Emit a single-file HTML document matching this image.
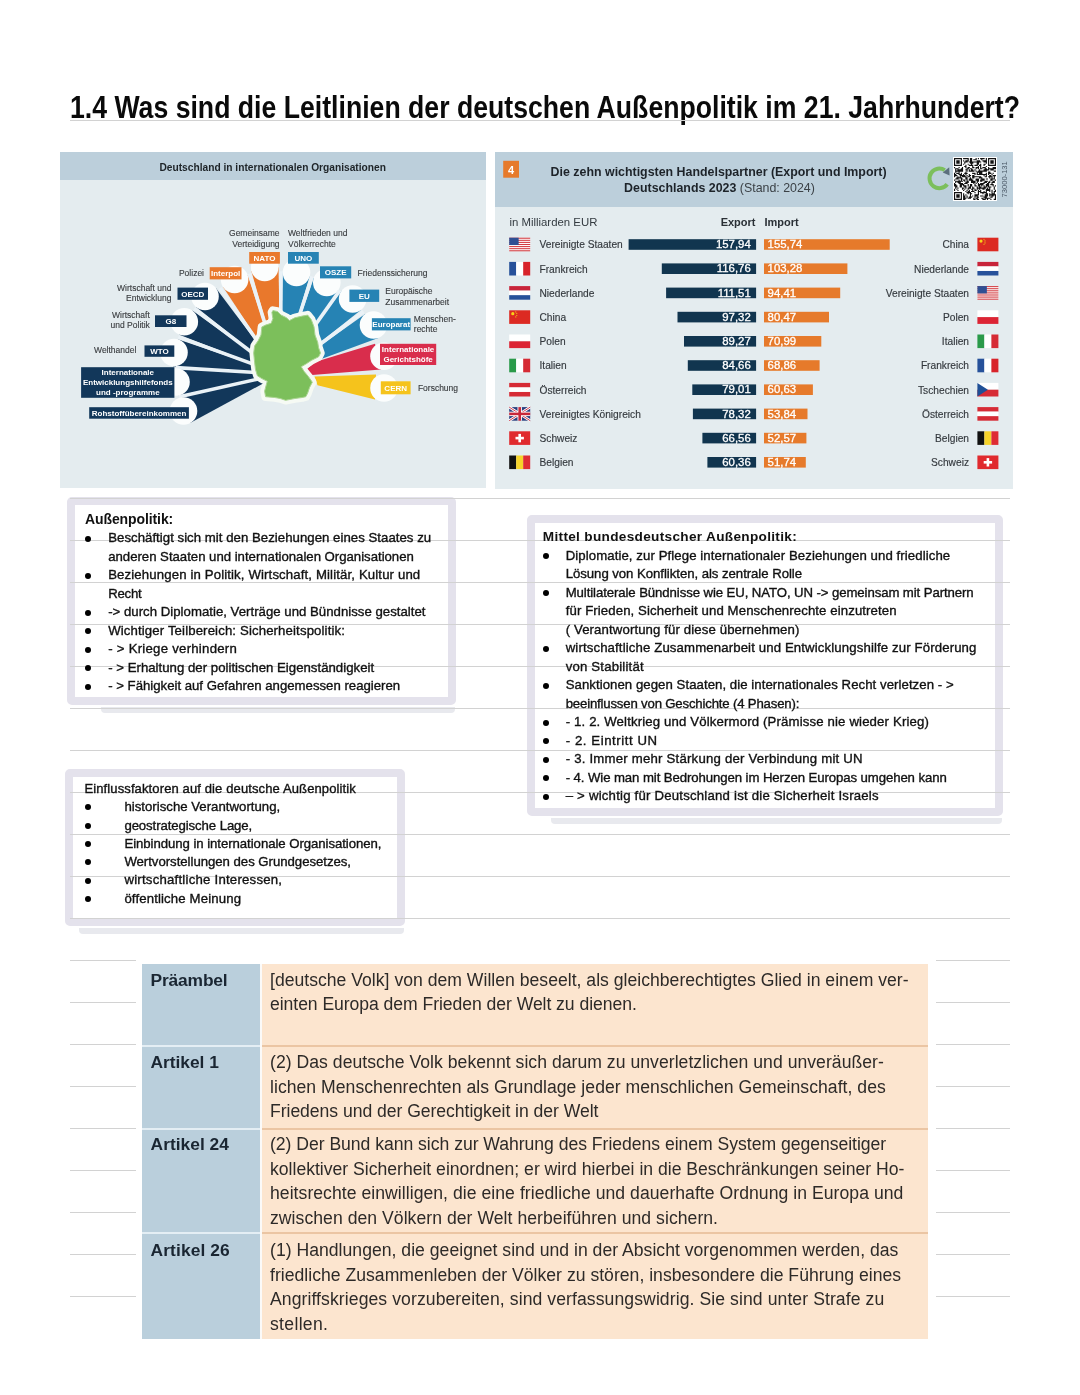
<!DOCTYPE html>
<html lang="de">
<head>
<meta charset="utf-8">
<title>1.4 Leitlinien der deutschen Außenpolitik</title>
<style>
*{margin:0;padding:0;box-sizing:border-box}
html,body{width:1080px;height:1395px;background:#fff;overflow:hidden}
body{position:relative;font-family:"Liberation Sans",Arial,sans-serif;color:#111}
.abs{position:absolute}
.ln{position:absolute;height:1px;background:#d2d2d2}
h1{position:absolute;left:69.5px;top:92.0px;font:700 31px/1 "Liberation Sans",sans-serif;white-space:nowrap;color:#0a0a0a;letter-spacing:0px;transform:scaleX(0.8595);transform-origin:0 0}
.box{position:absolute;background:#fff;border:8px solid #e4e2ec;border-radius:5px}
.shadow{position:absolute;height:5.5px;background:#e8e9ee;border-radius:0 0 4px 4px}
.t{position:absolute;white-space:nowrap;font-family:"Liberation Sans",sans-serif;color:#111;line-height:1}
.nt{-webkit-text-stroke:0.35px #111}
.dot{position:absolute;width:6px;height:6px;border-radius:50%;background:#000}
.cell{position:absolute;overflow:hidden}
.lab{position:absolute;font:700 17px/1 "Liberation Sans",sans-serif;color:#1b2733;white-space:nowrap;letter-spacing:-0.2px}
.txt{position:absolute;font:400 17.6px/24.5px "Liberation Sans",sans-serif;color:#2e2b2a;white-space:nowrap}
</style>
</head>
<body>
<h1>1.4 Was sind die Leitlinien der deutschen Außenpolitik im 21. Jahrhundert?</h1>
<svg class="abs" style="left:60px;top:152px" width="426" height="336" viewBox="60 152 426 336">
<rect x="60" y="152" width="426" height="336" fill="#e4ecef"/>
<rect x="60" y="152" width="426" height="28" fill="#bccfdb"/>
<text x="272.7" y="171.4" text-anchor="middle" font-family="Liberation Sans, sans-serif" font-weight="700" font-size="10.2" fill="#1e2428">Deutschland in internationalen Organisationen</text>
<polygon points="280.5,374.0 180.3,397.6 190.1,423.1" fill="#12375a"/>
<polygon points="280.5,374.0 176.8,368.2 178.9,395.5" fill="#12375a"/>
<polygon points="280.5,374.0 178.4,339.4 173.0,366.3" fill="#12375a"/>
<polygon points="280.5,374.0 192.4,310.6 179.3,334.7" fill="#12375a"/>
<polygon points="280.5,374.0 216.0,288.2 196.4,307.3" fill="#12375a"/>
<polygon points="280.5,374.0 247.7,275.2 223.1,287.1" fill="#e9782c"/>
<polygon points="280.5,374.0 278.5,267.2 251.4,271.3" fill="#e9782c"/>
<polygon points="280.5,374.0 309.7,276.5 282.7,272.2" fill="#2683b4"/>
<polygon points="280.5,374.0 338.2,290.3 313.8,278.0" fill="#2683b4"/>
<polygon points="280.5,374.0 361.2,309.8 341.5,290.8" fill="#2683b4"/>
<polygon points="280.5,374.0 378.3,337.9 365.5,313.7" fill="#2683b4"/>
<line x1="280.5" y1="374.0" x2="179.2" y2="396.7" stroke="#eaf2f7" stroke-width="3.6"/>
<line x1="280.5" y1="374.0" x2="175.9" y2="367.6" stroke="#eaf2f7" stroke-width="3.6"/>
<line x1="280.5" y1="374.0" x2="178.4" y2="336.9" stroke="#eaf2f7" stroke-width="3.6"/>
<line x1="280.5" y1="374.0" x2="194.2" y2="308.7" stroke="#eaf2f7" stroke-width="3.6"/>
<line x1="280.5" y1="374.0" x2="220.1" y2="288.0" stroke="#eaf2f7" stroke-width="3.6"/>
<line x1="280.5" y1="374.0" x2="249.5" y2="273.6" stroke="#eaf2f7" stroke-width="3.6"/>
<line x1="280.5" y1="374.0" x2="281.0" y2="271.2" stroke="#eaf2f7" stroke-width="3.6"/>
<line x1="280.5" y1="374.0" x2="312.0" y2="276.4" stroke="#eaf2f7" stroke-width="3.6"/>
<line x1="280.5" y1="374.0" x2="339.8" y2="290.4" stroke="#eaf2f7" stroke-width="3.6"/>
<line x1="280.5" y1="374.0" x2="363.6" y2="311.5" stroke="#eaf2f7" stroke-width="3.6"/>
<polygon points="375,343.8 315,362 307.5,368.5 307.5,372.5 312,375 381,369.5" fill="#d92d4c"/>
<polygon points="376,374.6 314.5,376.6 317.5,385.2 375,399.5" fill="#f5c31c"/>
<circle cx="183.5" cy="411.0" r="13.8" fill="#fbfdfd"/>
<circle cx="176.0" cy="382.0" r="13.8" fill="#fbfdfd"/>
<circle cx="174.0" cy="352.5" r="13.8" fill="#fbfdfd"/>
<circle cx="184.3" cy="321.8" r="13.8" fill="#fbfdfd"/>
<circle cx="205.0" cy="296.5" r="13.8" fill="#fbfdfd"/>
<circle cx="234.6" cy="279.5" r="13.8" fill="#fbfdfd"/>
<circle cx="264.7" cy="267.5" r="13.8" fill="#fbfdfd"/>
<circle cx="296.5" cy="272.5" r="13.8" fill="#fbfdfd"/>
<circle cx="326.8" cy="282.5" r="13.8" fill="#fbfdfd"/>
<circle cx="352.6" cy="299.0" r="13.8" fill="#fbfdfd"/>
<circle cx="373.5" cy="325.0" r="13.8" fill="#fbfdfd"/>
<circle cx="384.0" cy="356.3" r="13.8" fill="#fbfdfd"/>
<circle cx="384.0" cy="388.0" r="13.8" fill="#fbfdfd"/>
<rect x="89.2" y="407.2" width="99.7" height="11.5" fill="#12375a"/>
<text x="139.1" y="415.8" text-anchor="middle" font-family="Liberation Sans, sans-serif" font-weight="700" font-size="8" fill="#fff">Rohstoffübereinkommen</text>
<rect x="81.1" y="367.2" width="93.3" height="30.6" fill="#12375a"/>
<text x="127.8" y="375.4" text-anchor="middle" font-family="Liberation Sans, sans-serif" font-weight="700" font-size="8" fill="#fff">Internationale</text>
<text x="127.8" y="385.4" text-anchor="middle" font-family="Liberation Sans, sans-serif" font-weight="700" font-size="8" fill="#fff">Entwicklungshilfefonds</text>
<text x="127.8" y="395.4" text-anchor="middle" font-family="Liberation Sans, sans-serif" font-weight="700" font-size="8" fill="#fff">und -programme</text>
<rect x="144.5" y="345.4" width="29.8" height="11.4" fill="#12375a"/>
<text x="159.4" y="354.0" text-anchor="middle" font-family="Liberation Sans, sans-serif" font-weight="700" font-size="8" fill="#fff">WTO</text>
<text x="136.4" y="353.2" text-anchor="end" font-family="Liberation Sans, sans-serif" font-size="8.5" fill="#383b3e" stroke="#383b3e" stroke-width="0.12">Welthandel</text>
<rect x="155.0" y="315.3" width="31.5" height="11.7" fill="#12375a"/>
<text x="170.8" y="324.0" text-anchor="middle" font-family="Liberation Sans, sans-serif" font-weight="700" font-size="8" fill="#fff">G8</text>
<text x="149.8" y="317.8" text-anchor="end" font-family="Liberation Sans, sans-serif" font-size="8.5" fill="#383b3e" stroke="#383b3e" stroke-width="0.12">Wirtschaft</text>
<text x="149.8" y="328.3" text-anchor="end" font-family="Liberation Sans, sans-serif" font-size="8.5" fill="#383b3e" stroke="#383b3e" stroke-width="0.12">und Politik</text>
<rect x="177.5" y="287.6" width="30.5" height="12.2" fill="#12375a"/>
<text x="192.8" y="296.6" text-anchor="middle" font-family="Liberation Sans, sans-serif" font-weight="700" font-size="8" fill="#fff">OECD</text>
<text x="171.4" y="290.6" text-anchor="end" font-family="Liberation Sans, sans-serif" font-size="8.5" fill="#383b3e" stroke="#383b3e" stroke-width="0.12">Wirtschaft und</text>
<text x="171.4" y="301.0" text-anchor="end" font-family="Liberation Sans, sans-serif" font-size="8.5" fill="#383b3e" stroke="#383b3e" stroke-width="0.12">Entwicklung</text>
<rect x="209.7" y="267.2" width="31.8" height="12.2" fill="#e9782c"/>
<text x="225.6" y="276.2" text-anchor="middle" font-family="Liberation Sans, sans-serif" font-weight="700" font-size="8" fill="#fff">Interpol</text>
<text x="204.0" y="276.3" text-anchor="end" font-family="Liberation Sans, sans-serif" font-size="8.5" fill="#383b3e" stroke="#383b3e" stroke-width="0.12">Polizei</text>
<rect x="249.2" y="252.0" width="30.7" height="11.7" fill="#e9782c"/>
<text x="264.5" y="260.8" text-anchor="middle" font-family="Liberation Sans, sans-serif" font-weight="700" font-size="8" fill="#fff">NATO</text>
<text x="279.6" y="236.3" text-anchor="end" font-family="Liberation Sans, sans-serif" font-size="8.5" fill="#383b3e" stroke="#383b3e" stroke-width="0.12">Gemeinsame</text>
<text x="279.6" y="246.5" text-anchor="end" font-family="Liberation Sans, sans-serif" font-size="8.5" fill="#383b3e" stroke="#383b3e" stroke-width="0.12">Verteidigung</text>
<rect x="288.0" y="252.0" width="30.8" height="11.7" fill="#2683b4"/>
<text x="303.4" y="260.8" text-anchor="middle" font-family="Liberation Sans, sans-serif" font-weight="700" font-size="8" fill="#fff">UNO</text>
<text x="288.0" y="236.3" text-anchor="start" font-family="Liberation Sans, sans-serif" font-size="8.5" fill="#383b3e" stroke="#383b3e" stroke-width="0.12">Weltfrieden und</text>
<text x="288.0" y="246.5" text-anchor="start" font-family="Liberation Sans, sans-serif" font-size="8.5" fill="#383b3e" stroke="#383b3e" stroke-width="0.12">Völkerrechte</text>
<rect x="320.0" y="266.3" width="31.2" height="12.1" fill="#2683b4"/>
<text x="335.6" y="275.2" text-anchor="middle" font-family="Liberation Sans, sans-serif" font-weight="700" font-size="8" fill="#fff">OSZE</text>
<text x="357.6" y="275.8" text-anchor="start" font-family="Liberation Sans, sans-serif" font-size="8.5" fill="#383b3e" stroke="#383b3e" stroke-width="0.12">Friedenssicherung</text>
<rect x="349.4" y="289.6" width="29.8" height="12.3" fill="#2683b4"/>
<text x="364.3" y="298.6" text-anchor="middle" font-family="Liberation Sans, sans-serif" font-weight="700" font-size="8" fill="#fff">EU</text>
<text x="385.3" y="294.3" text-anchor="start" font-family="Liberation Sans, sans-serif" font-size="8.5" fill="#383b3e" stroke="#383b3e" stroke-width="0.12">Europäische</text>
<text x="385.3" y="304.5" text-anchor="start" font-family="Liberation Sans, sans-serif" font-size="8.5" fill="#383b3e" stroke="#383b3e" stroke-width="0.12">Zusammenarbeit</text>
<rect x="371.9" y="318.2" width="38.7" height="12.2" fill="#2683b4"/>
<text x="391.2" y="327.2" text-anchor="middle" font-family="Liberation Sans, sans-serif" font-weight="700" font-size="8" fill="#fff">Europarat</text>
<text x="413.8" y="321.5" text-anchor="start" font-family="Liberation Sans, sans-serif" font-size="8.5" fill="#383b3e" stroke="#383b3e" stroke-width="0.12">Menschen-</text>
<text x="413.8" y="332.0" text-anchor="start" font-family="Liberation Sans, sans-serif" font-size="8.5" fill="#383b3e" stroke="#383b3e" stroke-width="0.12">rechte</text>
<rect x="380.0" y="343.8" width="56.2" height="21.2" fill="#d92d4c"/>
<text x="408.1" y="352.3" text-anchor="middle" font-family="Liberation Sans, sans-serif" font-weight="700" font-size="8" fill="#fff">Internationale</text>
<text x="408.1" y="362.3" text-anchor="middle" font-family="Liberation Sans, sans-serif" font-weight="700" font-size="8" fill="#fff">Gerichtshöfe</text>
<rect x="380.8" y="381.3" width="29.8" height="13.0" fill="#f5c31c"/>
<text x="395.7" y="390.7" text-anchor="middle" font-family="Liberation Sans, sans-serif" font-weight="700" font-size="8" fill="#fff">CERN</text>
<text x="417.9" y="391.0" text-anchor="start" font-family="Liberation Sans, sans-serif" font-size="8.5" fill="#383b3e" stroke="#383b3e" stroke-width="0.12">Forschung</text>
<polygon points="272.9,310.6 277.4,311.5 281.1,315.1 286.6,317.8 289.4,320.6 294.8,317.8 302.2,316.1 307.7,315.1 311.3,319.7 314.0,326.9 315.0,335.0 317.7,342.3 318.6,347.8 320.5,353.1 318.6,356.8 311.3,360.4 305.8,364.1 301.2,366.7 304.0,371.3 308.5,376.7 312.3,382.2 309.5,387.6 307.7,393.0 305.8,396.7 302.2,397.5 294.8,398.5 285.6,400.3 280.2,398.5 274.7,397.5 265.6,396.7 264.6,391.2 266.5,383.9 267.3,381.3 261.9,378.6 257.4,375.8 255.5,369.5 254.6,362.2 253.7,353.1 254.6,345.9 258.3,340.5 261.0,335.0 261.9,326.9 265.6,325.1 271.1,323.3 272.9,318.7 271.9,312.4" fill="#f6faf4" stroke="#f6faf4" stroke-width="8.5" stroke-linejoin="round"/>
<polygon points="272.9,310.6 277.4,311.5 281.1,315.1 286.6,317.8 289.4,320.6 294.8,317.8 302.2,316.1 307.7,315.1 311.3,319.7 314.0,326.9 315.0,335.0 317.7,342.3 318.6,347.8 320.5,353.1 318.6,356.8 311.3,360.4 305.8,364.1 301.2,366.7 304.0,371.3 308.5,376.7 312.3,382.2 309.5,387.6 307.7,393.0 305.8,396.7 302.2,397.5 294.8,398.5 285.6,400.3 280.2,398.5 274.7,397.5 265.6,396.7 264.6,391.2 266.5,383.9 267.3,381.3 261.9,378.6 257.4,375.8 255.5,369.5 254.6,362.2 253.7,353.1 254.6,345.9 258.3,340.5 261.0,335.0 261.9,326.9 265.6,325.1 271.1,323.3 272.9,318.7 271.9,312.4" fill="#7cbf5b" stroke="#a9d48f" stroke-width="1" stroke-linejoin="round"/>
</svg>
<svg class="abs" style="left:495px;top:152px" width="518" height="337" viewBox="495 152 518 337">
<rect x="495" y="152" width="518" height="337" fill="#e4ecef"/>
<rect x="495" y="152" width="518" height="55" fill="#bccfdb"/>
<rect x="503.2" y="160.8" width="15.8" height="16.9" fill="#e67a2b"/>
<text x="511.1" y="173.6" text-anchor="middle" font-family="Liberation Sans, sans-serif" font-weight="700" font-size="11" fill="#fff">4</text>
<text x="718.6" y="176" text-anchor="middle" font-family="Liberation Sans, sans-serif" font-weight="700" font-size="12.4" fill="#1d2329">Die zehn wichtigsten Handelspartner (Export und Import)</text>
<text x="719.5" y="192" text-anchor="middle" font-family="Liberation Sans, sans-serif" font-size="12.4" fill="#1d2329"><tspan font-weight="700">Deutschlands 2023</tspan><tspan fill="#3b4146"> (Stand: 2024)</tspan></text>
<path d="M944.8,170.2 A9.8,9.8 0 1 0 947.2,184.2" fill="none" stroke="#7cbf5c" stroke-width="4"/>
<polygon points="949.2,167.2 949.6,175.4 942.8,172.4" fill="#5b6f7d"/>
<rect x="953.0" y="157.0" width="44.0" height="44.0" fill="#fff"/><path d="M954.00 158.00h1.14v1.14h-1.14zM955.14 158.00h1.14v1.14h-1.14zM956.27 158.00h1.14v1.14h-1.14zM957.41 158.00h1.14v1.14h-1.14zM958.54 158.00h1.14v1.14h-1.14zM959.68 158.00h1.14v1.14h-1.14zM960.81 158.00h1.14v1.14h-1.14zM963.08 158.00h1.14v1.14h-1.14zM964.22 158.00h1.14v1.14h-1.14zM965.35 158.00h1.14v1.14h-1.14zM966.49 158.00h1.14v1.14h-1.14zM967.62 158.00h1.14v1.14h-1.14zM969.89 158.00h1.14v1.14h-1.14zM971.03 158.00h1.14v1.14h-1.14zM975.57 158.00h1.14v1.14h-1.14zM977.84 158.00h1.14v1.14h-1.14zM980.11 158.00h1.14v1.14h-1.14zM981.24 158.00h1.14v1.14h-1.14zM982.38 158.00h1.14v1.14h-1.14zM983.51 158.00h1.14v1.14h-1.14zM985.78 158.00h1.14v1.14h-1.14zM988.05 158.00h1.14v1.14h-1.14zM989.19 158.00h1.14v1.14h-1.14zM990.32 158.00h1.14v1.14h-1.14zM991.46 158.00h1.14v1.14h-1.14zM992.59 158.00h1.14v1.14h-1.14zM993.73 158.00h1.14v1.14h-1.14zM994.86 158.00h1.14v1.14h-1.14zM954.00 159.14h1.14v1.14h-1.14zM960.81 159.14h1.14v1.14h-1.14zM967.62 159.14h1.14v1.14h-1.14zM969.89 159.14h1.14v1.14h-1.14zM971.03 159.14h1.14v1.14h-1.14zM973.30 159.14h1.14v1.14h-1.14zM974.43 159.14h1.14v1.14h-1.14zM975.57 159.14h1.14v1.14h-1.14zM981.24 159.14h1.14v1.14h-1.14zM985.78 159.14h1.14v1.14h-1.14zM988.05 159.14h1.14v1.14h-1.14zM994.86 159.14h1.14v1.14h-1.14zM954.00 160.27h1.14v1.14h-1.14zM956.27 160.27h1.14v1.14h-1.14zM957.41 160.27h1.14v1.14h-1.14zM958.54 160.27h1.14v1.14h-1.14zM960.81 160.27h1.14v1.14h-1.14zM963.08 160.27h1.14v1.14h-1.14zM965.35 160.27h1.14v1.14h-1.14zM966.49 160.27h1.14v1.14h-1.14zM967.62 160.27h1.14v1.14h-1.14zM969.89 160.27h1.14v1.14h-1.14zM971.03 160.27h1.14v1.14h-1.14zM976.70 160.27h1.14v1.14h-1.14zM977.84 160.27h1.14v1.14h-1.14zM978.97 160.27h1.14v1.14h-1.14zM982.38 160.27h1.14v1.14h-1.14zM983.51 160.27h1.14v1.14h-1.14zM984.65 160.27h1.14v1.14h-1.14zM985.78 160.27h1.14v1.14h-1.14zM988.05 160.27h1.14v1.14h-1.14zM990.32 160.27h1.14v1.14h-1.14zM991.46 160.27h1.14v1.14h-1.14zM992.59 160.27h1.14v1.14h-1.14zM994.86 160.27h1.14v1.14h-1.14zM954.00 161.41h1.14v1.14h-1.14zM956.27 161.41h1.14v1.14h-1.14zM957.41 161.41h1.14v1.14h-1.14zM958.54 161.41h1.14v1.14h-1.14zM960.81 161.41h1.14v1.14h-1.14zM964.22 161.41h1.14v1.14h-1.14zM965.35 161.41h1.14v1.14h-1.14zM966.49 161.41h1.14v1.14h-1.14zM968.76 161.41h1.14v1.14h-1.14zM969.89 161.41h1.14v1.14h-1.14zM971.03 161.41h1.14v1.14h-1.14zM972.16 161.41h1.14v1.14h-1.14zM973.30 161.41h1.14v1.14h-1.14zM974.43 161.41h1.14v1.14h-1.14zM975.57 161.41h1.14v1.14h-1.14zM976.70 161.41h1.14v1.14h-1.14zM977.84 161.41h1.14v1.14h-1.14zM978.97 161.41h1.14v1.14h-1.14zM980.11 161.41h1.14v1.14h-1.14zM983.51 161.41h1.14v1.14h-1.14zM984.65 161.41h1.14v1.14h-1.14zM985.78 161.41h1.14v1.14h-1.14zM988.05 161.41h1.14v1.14h-1.14zM990.32 161.41h1.14v1.14h-1.14zM991.46 161.41h1.14v1.14h-1.14zM992.59 161.41h1.14v1.14h-1.14zM994.86 161.41h1.14v1.14h-1.14zM954.00 162.54h1.14v1.14h-1.14zM956.27 162.54h1.14v1.14h-1.14zM957.41 162.54h1.14v1.14h-1.14zM958.54 162.54h1.14v1.14h-1.14zM960.81 162.54h1.14v1.14h-1.14zM964.22 162.54h1.14v1.14h-1.14zM969.89 162.54h1.14v1.14h-1.14zM971.03 162.54h1.14v1.14h-1.14zM972.16 162.54h1.14v1.14h-1.14zM976.70 162.54h1.14v1.14h-1.14zM977.84 162.54h1.14v1.14h-1.14zM985.78 162.54h1.14v1.14h-1.14zM988.05 162.54h1.14v1.14h-1.14zM990.32 162.54h1.14v1.14h-1.14zM991.46 162.54h1.14v1.14h-1.14zM992.59 162.54h1.14v1.14h-1.14zM994.86 162.54h1.14v1.14h-1.14zM954.00 163.68h1.14v1.14h-1.14zM960.81 163.68h1.14v1.14h-1.14zM963.08 163.68h1.14v1.14h-1.14zM967.62 163.68h1.14v1.14h-1.14zM971.03 163.68h1.14v1.14h-1.14zM976.70 163.68h1.14v1.14h-1.14zM977.84 163.68h1.14v1.14h-1.14zM980.11 163.68h1.14v1.14h-1.14zM983.51 163.68h1.14v1.14h-1.14zM984.65 163.68h1.14v1.14h-1.14zM988.05 163.68h1.14v1.14h-1.14zM994.86 163.68h1.14v1.14h-1.14zM954.00 164.81h1.14v1.14h-1.14zM955.14 164.81h1.14v1.14h-1.14zM956.27 164.81h1.14v1.14h-1.14zM957.41 164.81h1.14v1.14h-1.14zM958.54 164.81h1.14v1.14h-1.14zM959.68 164.81h1.14v1.14h-1.14zM960.81 164.81h1.14v1.14h-1.14zM965.35 164.81h1.14v1.14h-1.14zM968.76 164.81h1.14v1.14h-1.14zM969.89 164.81h1.14v1.14h-1.14zM971.03 164.81h1.14v1.14h-1.14zM972.16 164.81h1.14v1.14h-1.14zM974.43 164.81h1.14v1.14h-1.14zM975.57 164.81h1.14v1.14h-1.14zM976.70 164.81h1.14v1.14h-1.14zM978.97 164.81h1.14v1.14h-1.14zM980.11 164.81h1.14v1.14h-1.14zM983.51 164.81h1.14v1.14h-1.14zM988.05 164.81h1.14v1.14h-1.14zM989.19 164.81h1.14v1.14h-1.14zM990.32 164.81h1.14v1.14h-1.14zM991.46 164.81h1.14v1.14h-1.14zM992.59 164.81h1.14v1.14h-1.14zM993.73 164.81h1.14v1.14h-1.14zM994.86 164.81h1.14v1.14h-1.14zM964.22 165.95h1.14v1.14h-1.14zM965.35 165.95h1.14v1.14h-1.14zM972.16 165.95h1.14v1.14h-1.14zM977.84 165.95h1.14v1.14h-1.14zM980.11 165.95h1.14v1.14h-1.14zM985.78 165.95h1.14v1.14h-1.14zM954.00 167.08h1.14v1.14h-1.14zM958.54 167.08h1.14v1.14h-1.14zM961.95 167.08h1.14v1.14h-1.14zM965.35 167.08h1.14v1.14h-1.14zM967.62 167.08h1.14v1.14h-1.14zM968.76 167.08h1.14v1.14h-1.14zM972.16 167.08h1.14v1.14h-1.14zM973.30 167.08h1.14v1.14h-1.14zM975.57 167.08h1.14v1.14h-1.14zM976.70 167.08h1.14v1.14h-1.14zM977.84 167.08h1.14v1.14h-1.14zM980.11 167.08h1.14v1.14h-1.14zM982.38 167.08h1.14v1.14h-1.14zM983.51 167.08h1.14v1.14h-1.14zM984.65 167.08h1.14v1.14h-1.14zM988.05 167.08h1.14v1.14h-1.14zM992.59 167.08h1.14v1.14h-1.14zM993.73 167.08h1.14v1.14h-1.14zM994.86 167.08h1.14v1.14h-1.14zM955.14 168.22h1.14v1.14h-1.14zM956.27 168.22h1.14v1.14h-1.14zM957.41 168.22h1.14v1.14h-1.14zM960.81 168.22h1.14v1.14h-1.14zM961.95 168.22h1.14v1.14h-1.14zM966.49 168.22h1.14v1.14h-1.14zM967.62 168.22h1.14v1.14h-1.14zM969.89 168.22h1.14v1.14h-1.14zM971.03 168.22h1.14v1.14h-1.14zM975.57 168.22h1.14v1.14h-1.14zM977.84 168.22h1.14v1.14h-1.14zM980.11 168.22h1.14v1.14h-1.14zM981.24 168.22h1.14v1.14h-1.14zM984.65 168.22h1.14v1.14h-1.14zM985.78 168.22h1.14v1.14h-1.14zM988.05 168.22h1.14v1.14h-1.14zM989.19 168.22h1.14v1.14h-1.14zM990.32 168.22h1.14v1.14h-1.14zM991.46 168.22h1.14v1.14h-1.14zM992.59 168.22h1.14v1.14h-1.14zM993.73 168.22h1.14v1.14h-1.14zM994.86 168.22h1.14v1.14h-1.14zM955.14 169.35h1.14v1.14h-1.14zM957.41 169.35h1.14v1.14h-1.14zM958.54 169.35h1.14v1.14h-1.14zM959.68 169.35h1.14v1.14h-1.14zM960.81 169.35h1.14v1.14h-1.14zM961.95 169.35h1.14v1.14h-1.14zM965.35 169.35h1.14v1.14h-1.14zM966.49 169.35h1.14v1.14h-1.14zM968.76 169.35h1.14v1.14h-1.14zM971.03 169.35h1.14v1.14h-1.14zM972.16 169.35h1.14v1.14h-1.14zM974.43 169.35h1.14v1.14h-1.14zM978.97 169.35h1.14v1.14h-1.14zM983.51 169.35h1.14v1.14h-1.14zM984.65 169.35h1.14v1.14h-1.14zM985.78 169.35h1.14v1.14h-1.14zM986.92 169.35h1.14v1.14h-1.14zM988.05 169.35h1.14v1.14h-1.14zM990.32 169.35h1.14v1.14h-1.14zM991.46 169.35h1.14v1.14h-1.14zM992.59 169.35h1.14v1.14h-1.14zM955.14 170.49h1.14v1.14h-1.14zM956.27 170.49h1.14v1.14h-1.14zM957.41 170.49h1.14v1.14h-1.14zM958.54 170.49h1.14v1.14h-1.14zM959.68 170.49h1.14v1.14h-1.14zM960.81 170.49h1.14v1.14h-1.14zM961.95 170.49h1.14v1.14h-1.14zM966.49 170.49h1.14v1.14h-1.14zM968.76 170.49h1.14v1.14h-1.14zM969.89 170.49h1.14v1.14h-1.14zM971.03 170.49h1.14v1.14h-1.14zM972.16 170.49h1.14v1.14h-1.14zM973.30 170.49h1.14v1.14h-1.14zM975.57 170.49h1.14v1.14h-1.14zM977.84 170.49h1.14v1.14h-1.14zM978.97 170.49h1.14v1.14h-1.14zM980.11 170.49h1.14v1.14h-1.14zM981.24 170.49h1.14v1.14h-1.14zM982.38 170.49h1.14v1.14h-1.14zM983.51 170.49h1.14v1.14h-1.14zM984.65 170.49h1.14v1.14h-1.14zM985.78 170.49h1.14v1.14h-1.14zM993.73 170.49h1.14v1.14h-1.14zM994.86 170.49h1.14v1.14h-1.14zM955.14 171.62h1.14v1.14h-1.14zM958.54 171.62h1.14v1.14h-1.14zM965.35 171.62h1.14v1.14h-1.14zM976.70 171.62h1.14v1.14h-1.14zM977.84 171.62h1.14v1.14h-1.14zM978.97 171.62h1.14v1.14h-1.14zM980.11 171.62h1.14v1.14h-1.14zM981.24 171.62h1.14v1.14h-1.14zM988.05 171.62h1.14v1.14h-1.14zM989.19 171.62h1.14v1.14h-1.14zM954.00 172.76h1.14v1.14h-1.14zM956.27 172.76h1.14v1.14h-1.14zM957.41 172.76h1.14v1.14h-1.14zM958.54 172.76h1.14v1.14h-1.14zM960.81 172.76h1.14v1.14h-1.14zM964.22 172.76h1.14v1.14h-1.14zM965.35 172.76h1.14v1.14h-1.14zM966.49 172.76h1.14v1.14h-1.14zM972.16 172.76h1.14v1.14h-1.14zM973.30 172.76h1.14v1.14h-1.14zM974.43 172.76h1.14v1.14h-1.14zM976.70 172.76h1.14v1.14h-1.14zM978.97 172.76h1.14v1.14h-1.14zM980.11 172.76h1.14v1.14h-1.14zM981.24 172.76h1.14v1.14h-1.14zM985.78 172.76h1.14v1.14h-1.14zM988.05 172.76h1.14v1.14h-1.14zM989.19 172.76h1.14v1.14h-1.14zM990.32 172.76h1.14v1.14h-1.14zM992.59 172.76h1.14v1.14h-1.14zM954.00 173.89h1.14v1.14h-1.14zM955.14 173.89h1.14v1.14h-1.14zM958.54 173.89h1.14v1.14h-1.14zM959.68 173.89h1.14v1.14h-1.14zM960.81 173.89h1.14v1.14h-1.14zM963.08 173.89h1.14v1.14h-1.14zM965.35 173.89h1.14v1.14h-1.14zM968.76 173.89h1.14v1.14h-1.14zM974.43 173.89h1.14v1.14h-1.14zM976.70 173.89h1.14v1.14h-1.14zM977.84 173.89h1.14v1.14h-1.14zM978.97 173.89h1.14v1.14h-1.14zM980.11 173.89h1.14v1.14h-1.14zM981.24 173.89h1.14v1.14h-1.14zM982.38 173.89h1.14v1.14h-1.14zM983.51 173.89h1.14v1.14h-1.14zM984.65 173.89h1.14v1.14h-1.14zM985.78 173.89h1.14v1.14h-1.14zM988.05 173.89h1.14v1.14h-1.14zM991.46 173.89h1.14v1.14h-1.14zM954.00 175.03h1.14v1.14h-1.14zM955.14 175.03h1.14v1.14h-1.14zM956.27 175.03h1.14v1.14h-1.14zM959.68 175.03h1.14v1.14h-1.14zM960.81 175.03h1.14v1.14h-1.14zM961.95 175.03h1.14v1.14h-1.14zM963.08 175.03h1.14v1.14h-1.14zM964.22 175.03h1.14v1.14h-1.14zM966.49 175.03h1.14v1.14h-1.14zM968.76 175.03h1.14v1.14h-1.14zM969.89 175.03h1.14v1.14h-1.14zM972.16 175.03h1.14v1.14h-1.14zM973.30 175.03h1.14v1.14h-1.14zM983.51 175.03h1.14v1.14h-1.14zM985.78 175.03h1.14v1.14h-1.14zM989.19 175.03h1.14v1.14h-1.14zM990.32 175.03h1.14v1.14h-1.14zM992.59 175.03h1.14v1.14h-1.14zM993.73 175.03h1.14v1.14h-1.14zM994.86 175.03h1.14v1.14h-1.14zM954.00 176.16h1.14v1.14h-1.14zM957.41 176.16h1.14v1.14h-1.14zM959.68 176.16h1.14v1.14h-1.14zM961.95 176.16h1.14v1.14h-1.14zM963.08 176.16h1.14v1.14h-1.14zM964.22 176.16h1.14v1.14h-1.14zM965.35 176.16h1.14v1.14h-1.14zM967.62 176.16h1.14v1.14h-1.14zM968.76 176.16h1.14v1.14h-1.14zM972.16 176.16h1.14v1.14h-1.14zM973.30 176.16h1.14v1.14h-1.14zM974.43 176.16h1.14v1.14h-1.14zM975.57 176.16h1.14v1.14h-1.14zM976.70 176.16h1.14v1.14h-1.14zM977.84 176.16h1.14v1.14h-1.14zM978.97 176.16h1.14v1.14h-1.14zM980.11 176.16h1.14v1.14h-1.14zM984.65 176.16h1.14v1.14h-1.14zM985.78 176.16h1.14v1.14h-1.14zM988.05 176.16h1.14v1.14h-1.14zM989.19 176.16h1.14v1.14h-1.14zM990.32 176.16h1.14v1.14h-1.14zM991.46 176.16h1.14v1.14h-1.14zM993.73 176.16h1.14v1.14h-1.14zM956.27 177.30h1.14v1.14h-1.14zM957.41 177.30h1.14v1.14h-1.14zM958.54 177.30h1.14v1.14h-1.14zM959.68 177.30h1.14v1.14h-1.14zM960.81 177.30h1.14v1.14h-1.14zM965.35 177.30h1.14v1.14h-1.14zM966.49 177.30h1.14v1.14h-1.14zM969.89 177.30h1.14v1.14h-1.14zM972.16 177.30h1.14v1.14h-1.14zM973.30 177.30h1.14v1.14h-1.14zM978.97 177.30h1.14v1.14h-1.14zM980.11 177.30h1.14v1.14h-1.14zM981.24 177.30h1.14v1.14h-1.14zM989.19 177.30h1.14v1.14h-1.14zM991.46 177.30h1.14v1.14h-1.14zM993.73 177.30h1.14v1.14h-1.14zM955.14 178.43h1.14v1.14h-1.14zM956.27 178.43h1.14v1.14h-1.14zM957.41 178.43h1.14v1.14h-1.14zM960.81 178.43h1.14v1.14h-1.14zM961.95 178.43h1.14v1.14h-1.14zM965.35 178.43h1.14v1.14h-1.14zM966.49 178.43h1.14v1.14h-1.14zM968.76 178.43h1.14v1.14h-1.14zM969.89 178.43h1.14v1.14h-1.14zM971.03 178.43h1.14v1.14h-1.14zM975.57 178.43h1.14v1.14h-1.14zM976.70 178.43h1.14v1.14h-1.14zM977.84 178.43h1.14v1.14h-1.14zM981.24 178.43h1.14v1.14h-1.14zM982.38 178.43h1.14v1.14h-1.14zM983.51 178.43h1.14v1.14h-1.14zM985.78 178.43h1.14v1.14h-1.14zM986.92 178.43h1.14v1.14h-1.14zM990.32 178.43h1.14v1.14h-1.14zM991.46 178.43h1.14v1.14h-1.14zM992.59 178.43h1.14v1.14h-1.14zM993.73 178.43h1.14v1.14h-1.14zM954.00 179.57h1.14v1.14h-1.14zM958.54 179.57h1.14v1.14h-1.14zM960.81 179.57h1.14v1.14h-1.14zM963.08 179.57h1.14v1.14h-1.14zM964.22 179.57h1.14v1.14h-1.14zM966.49 179.57h1.14v1.14h-1.14zM968.76 179.57h1.14v1.14h-1.14zM969.89 179.57h1.14v1.14h-1.14zM971.03 179.57h1.14v1.14h-1.14zM972.16 179.57h1.14v1.14h-1.14zM975.57 179.57h1.14v1.14h-1.14zM976.70 179.57h1.14v1.14h-1.14zM977.84 179.57h1.14v1.14h-1.14zM980.11 179.57h1.14v1.14h-1.14zM981.24 179.57h1.14v1.14h-1.14zM982.38 179.57h1.14v1.14h-1.14zM983.51 179.57h1.14v1.14h-1.14zM990.32 179.57h1.14v1.14h-1.14zM991.46 179.57h1.14v1.14h-1.14zM994.86 179.57h1.14v1.14h-1.14zM955.14 180.70h1.14v1.14h-1.14zM956.27 180.70h1.14v1.14h-1.14zM957.41 180.70h1.14v1.14h-1.14zM958.54 180.70h1.14v1.14h-1.14zM959.68 180.70h1.14v1.14h-1.14zM960.81 180.70h1.14v1.14h-1.14zM961.95 180.70h1.14v1.14h-1.14zM964.22 180.70h1.14v1.14h-1.14zM966.49 180.70h1.14v1.14h-1.14zM967.62 180.70h1.14v1.14h-1.14zM971.03 180.70h1.14v1.14h-1.14zM972.16 180.70h1.14v1.14h-1.14zM973.30 180.70h1.14v1.14h-1.14zM974.43 180.70h1.14v1.14h-1.14zM976.70 180.70h1.14v1.14h-1.14zM977.84 180.70h1.14v1.14h-1.14zM980.11 180.70h1.14v1.14h-1.14zM981.24 180.70h1.14v1.14h-1.14zM984.65 180.70h1.14v1.14h-1.14zM985.78 180.70h1.14v1.14h-1.14zM986.92 180.70h1.14v1.14h-1.14zM989.19 180.70h1.14v1.14h-1.14zM992.59 180.70h1.14v1.14h-1.14zM993.73 180.70h1.14v1.14h-1.14zM955.14 181.84h1.14v1.14h-1.14zM957.41 181.84h1.14v1.14h-1.14zM958.54 181.84h1.14v1.14h-1.14zM959.68 181.84h1.14v1.14h-1.14zM965.35 181.84h1.14v1.14h-1.14zM966.49 181.84h1.14v1.14h-1.14zM967.62 181.84h1.14v1.14h-1.14zM971.03 181.84h1.14v1.14h-1.14zM972.16 181.84h1.14v1.14h-1.14zM973.30 181.84h1.14v1.14h-1.14zM974.43 181.84h1.14v1.14h-1.14zM976.70 181.84h1.14v1.14h-1.14zM983.51 181.84h1.14v1.14h-1.14zM984.65 181.84h1.14v1.14h-1.14zM985.78 181.84h1.14v1.14h-1.14zM988.05 181.84h1.14v1.14h-1.14zM989.19 181.84h1.14v1.14h-1.14zM991.46 181.84h1.14v1.14h-1.14zM992.59 181.84h1.14v1.14h-1.14zM993.73 181.84h1.14v1.14h-1.14zM954.00 182.97h1.14v1.14h-1.14zM958.54 182.97h1.14v1.14h-1.14zM959.68 182.97h1.14v1.14h-1.14zM960.81 182.97h1.14v1.14h-1.14zM961.95 182.97h1.14v1.14h-1.14zM964.22 182.97h1.14v1.14h-1.14zM965.35 182.97h1.14v1.14h-1.14zM966.49 182.97h1.14v1.14h-1.14zM973.30 182.97h1.14v1.14h-1.14zM975.57 182.97h1.14v1.14h-1.14zM977.84 182.97h1.14v1.14h-1.14zM980.11 182.97h1.14v1.14h-1.14zM981.24 182.97h1.14v1.14h-1.14zM982.38 182.97h1.14v1.14h-1.14zM983.51 182.97h1.14v1.14h-1.14zM986.92 182.97h1.14v1.14h-1.14zM988.05 182.97h1.14v1.14h-1.14zM991.46 182.97h1.14v1.14h-1.14zM954.00 184.11h1.14v1.14h-1.14zM955.14 184.11h1.14v1.14h-1.14zM959.68 184.11h1.14v1.14h-1.14zM960.81 184.11h1.14v1.14h-1.14zM961.95 184.11h1.14v1.14h-1.14zM963.08 184.11h1.14v1.14h-1.14zM967.62 184.11h1.14v1.14h-1.14zM969.89 184.11h1.14v1.14h-1.14zM971.03 184.11h1.14v1.14h-1.14zM974.43 184.11h1.14v1.14h-1.14zM977.84 184.11h1.14v1.14h-1.14zM978.97 184.11h1.14v1.14h-1.14zM980.11 184.11h1.14v1.14h-1.14zM981.24 184.11h1.14v1.14h-1.14zM982.38 184.11h1.14v1.14h-1.14zM985.78 184.11h1.14v1.14h-1.14zM986.92 184.11h1.14v1.14h-1.14zM988.05 184.11h1.14v1.14h-1.14zM990.32 184.11h1.14v1.14h-1.14zM991.46 184.11h1.14v1.14h-1.14zM992.59 184.11h1.14v1.14h-1.14zM954.00 185.24h1.14v1.14h-1.14zM955.14 185.24h1.14v1.14h-1.14zM956.27 185.24h1.14v1.14h-1.14zM959.68 185.24h1.14v1.14h-1.14zM960.81 185.24h1.14v1.14h-1.14zM963.08 185.24h1.14v1.14h-1.14zM964.22 185.24h1.14v1.14h-1.14zM965.35 185.24h1.14v1.14h-1.14zM967.62 185.24h1.14v1.14h-1.14zM969.89 185.24h1.14v1.14h-1.14zM971.03 185.24h1.14v1.14h-1.14zM974.43 185.24h1.14v1.14h-1.14zM975.57 185.24h1.14v1.14h-1.14zM977.84 185.24h1.14v1.14h-1.14zM978.97 185.24h1.14v1.14h-1.14zM981.24 185.24h1.14v1.14h-1.14zM983.51 185.24h1.14v1.14h-1.14zM985.78 185.24h1.14v1.14h-1.14zM986.92 185.24h1.14v1.14h-1.14zM988.05 185.24h1.14v1.14h-1.14zM992.59 185.24h1.14v1.14h-1.14zM994.86 185.24h1.14v1.14h-1.14zM955.14 186.38h1.14v1.14h-1.14zM956.27 186.38h1.14v1.14h-1.14zM959.68 186.38h1.14v1.14h-1.14zM960.81 186.38h1.14v1.14h-1.14zM964.22 186.38h1.14v1.14h-1.14zM965.35 186.38h1.14v1.14h-1.14zM968.76 186.38h1.14v1.14h-1.14zM969.89 186.38h1.14v1.14h-1.14zM972.16 186.38h1.14v1.14h-1.14zM976.70 186.38h1.14v1.14h-1.14zM978.97 186.38h1.14v1.14h-1.14zM980.11 186.38h1.14v1.14h-1.14zM983.51 186.38h1.14v1.14h-1.14zM984.65 186.38h1.14v1.14h-1.14zM985.78 186.38h1.14v1.14h-1.14zM988.05 186.38h1.14v1.14h-1.14zM989.19 186.38h1.14v1.14h-1.14zM990.32 186.38h1.14v1.14h-1.14zM993.73 186.38h1.14v1.14h-1.14zM955.14 187.51h1.14v1.14h-1.14zM957.41 187.51h1.14v1.14h-1.14zM961.95 187.51h1.14v1.14h-1.14zM963.08 187.51h1.14v1.14h-1.14zM965.35 187.51h1.14v1.14h-1.14zM967.62 187.51h1.14v1.14h-1.14zM968.76 187.51h1.14v1.14h-1.14zM969.89 187.51h1.14v1.14h-1.14zM972.16 187.51h1.14v1.14h-1.14zM973.30 187.51h1.14v1.14h-1.14zM976.70 187.51h1.14v1.14h-1.14zM977.84 187.51h1.14v1.14h-1.14zM978.97 187.51h1.14v1.14h-1.14zM980.11 187.51h1.14v1.14h-1.14zM981.24 187.51h1.14v1.14h-1.14zM982.38 187.51h1.14v1.14h-1.14zM983.51 187.51h1.14v1.14h-1.14zM984.65 187.51h1.14v1.14h-1.14zM986.92 187.51h1.14v1.14h-1.14zM989.19 187.51h1.14v1.14h-1.14zM993.73 187.51h1.14v1.14h-1.14zM954.00 188.65h1.14v1.14h-1.14zM956.27 188.65h1.14v1.14h-1.14zM961.95 188.65h1.14v1.14h-1.14zM964.22 188.65h1.14v1.14h-1.14zM967.62 188.65h1.14v1.14h-1.14zM971.03 188.65h1.14v1.14h-1.14zM972.16 188.65h1.14v1.14h-1.14zM974.43 188.65h1.14v1.14h-1.14zM976.70 188.65h1.14v1.14h-1.14zM978.97 188.65h1.14v1.14h-1.14zM982.38 188.65h1.14v1.14h-1.14zM983.51 188.65h1.14v1.14h-1.14zM985.78 188.65h1.14v1.14h-1.14zM986.92 188.65h1.14v1.14h-1.14zM988.05 188.65h1.14v1.14h-1.14zM989.19 188.65h1.14v1.14h-1.14zM993.73 188.65h1.14v1.14h-1.14zM954.00 189.78h1.14v1.14h-1.14zM957.41 189.78h1.14v1.14h-1.14zM963.08 189.78h1.14v1.14h-1.14zM966.49 189.78h1.14v1.14h-1.14zM968.76 189.78h1.14v1.14h-1.14zM972.16 189.78h1.14v1.14h-1.14zM974.43 189.78h1.14v1.14h-1.14zM975.57 189.78h1.14v1.14h-1.14zM977.84 189.78h1.14v1.14h-1.14zM980.11 189.78h1.14v1.14h-1.14zM985.78 189.78h1.14v1.14h-1.14zM986.92 189.78h1.14v1.14h-1.14zM988.05 189.78h1.14v1.14h-1.14zM989.19 189.78h1.14v1.14h-1.14zM991.46 189.78h1.14v1.14h-1.14zM994.86 189.78h1.14v1.14h-1.14zM965.35 190.92h1.14v1.14h-1.14zM967.62 190.92h1.14v1.14h-1.14zM968.76 190.92h1.14v1.14h-1.14zM971.03 190.92h1.14v1.14h-1.14zM972.16 190.92h1.14v1.14h-1.14zM973.30 190.92h1.14v1.14h-1.14zM977.84 190.92h1.14v1.14h-1.14zM978.97 190.92h1.14v1.14h-1.14zM980.11 190.92h1.14v1.14h-1.14zM983.51 190.92h1.14v1.14h-1.14zM985.78 190.92h1.14v1.14h-1.14zM989.19 190.92h1.14v1.14h-1.14zM991.46 190.92h1.14v1.14h-1.14zM993.73 190.92h1.14v1.14h-1.14zM994.86 190.92h1.14v1.14h-1.14zM954.00 192.05h1.14v1.14h-1.14zM955.14 192.05h1.14v1.14h-1.14zM956.27 192.05h1.14v1.14h-1.14zM957.41 192.05h1.14v1.14h-1.14zM958.54 192.05h1.14v1.14h-1.14zM959.68 192.05h1.14v1.14h-1.14zM960.81 192.05h1.14v1.14h-1.14zM966.49 192.05h1.14v1.14h-1.14zM967.62 192.05h1.14v1.14h-1.14zM968.76 192.05h1.14v1.14h-1.14zM969.89 192.05h1.14v1.14h-1.14zM974.43 192.05h1.14v1.14h-1.14zM977.84 192.05h1.14v1.14h-1.14zM980.11 192.05h1.14v1.14h-1.14zM981.24 192.05h1.14v1.14h-1.14zM982.38 192.05h1.14v1.14h-1.14zM983.51 192.05h1.14v1.14h-1.14zM984.65 192.05h1.14v1.14h-1.14zM985.78 192.05h1.14v1.14h-1.14zM991.46 192.05h1.14v1.14h-1.14zM993.73 192.05h1.14v1.14h-1.14zM954.00 193.19h1.14v1.14h-1.14zM960.81 193.19h1.14v1.14h-1.14zM963.08 193.19h1.14v1.14h-1.14zM967.62 193.19h1.14v1.14h-1.14zM969.89 193.19h1.14v1.14h-1.14zM971.03 193.19h1.14v1.14h-1.14zM977.84 193.19h1.14v1.14h-1.14zM982.38 193.19h1.14v1.14h-1.14zM985.78 193.19h1.14v1.14h-1.14zM986.92 193.19h1.14v1.14h-1.14zM989.19 193.19h1.14v1.14h-1.14zM991.46 193.19h1.14v1.14h-1.14zM992.59 193.19h1.14v1.14h-1.14zM993.73 193.19h1.14v1.14h-1.14zM954.00 194.32h1.14v1.14h-1.14zM956.27 194.32h1.14v1.14h-1.14zM957.41 194.32h1.14v1.14h-1.14zM958.54 194.32h1.14v1.14h-1.14zM960.81 194.32h1.14v1.14h-1.14zM963.08 194.32h1.14v1.14h-1.14zM965.35 194.32h1.14v1.14h-1.14zM969.89 194.32h1.14v1.14h-1.14zM974.43 194.32h1.14v1.14h-1.14zM975.57 194.32h1.14v1.14h-1.14zM976.70 194.32h1.14v1.14h-1.14zM977.84 194.32h1.14v1.14h-1.14zM984.65 194.32h1.14v1.14h-1.14zM985.78 194.32h1.14v1.14h-1.14zM986.92 194.32h1.14v1.14h-1.14zM989.19 194.32h1.14v1.14h-1.14zM990.32 194.32h1.14v1.14h-1.14zM991.46 194.32h1.14v1.14h-1.14zM992.59 194.32h1.14v1.14h-1.14zM993.73 194.32h1.14v1.14h-1.14zM994.86 194.32h1.14v1.14h-1.14zM954.00 195.46h1.14v1.14h-1.14zM956.27 195.46h1.14v1.14h-1.14zM957.41 195.46h1.14v1.14h-1.14zM958.54 195.46h1.14v1.14h-1.14zM960.81 195.46h1.14v1.14h-1.14zM963.08 195.46h1.14v1.14h-1.14zM964.22 195.46h1.14v1.14h-1.14zM966.49 195.46h1.14v1.14h-1.14zM969.89 195.46h1.14v1.14h-1.14zM972.16 195.46h1.14v1.14h-1.14zM974.43 195.46h1.14v1.14h-1.14zM975.57 195.46h1.14v1.14h-1.14zM976.70 195.46h1.14v1.14h-1.14zM980.11 195.46h1.14v1.14h-1.14zM981.24 195.46h1.14v1.14h-1.14zM982.38 195.46h1.14v1.14h-1.14zM984.65 195.46h1.14v1.14h-1.14zM985.78 195.46h1.14v1.14h-1.14zM986.92 195.46h1.14v1.14h-1.14zM989.19 195.46h1.14v1.14h-1.14zM991.46 195.46h1.14v1.14h-1.14zM992.59 195.46h1.14v1.14h-1.14zM994.86 195.46h1.14v1.14h-1.14zM954.00 196.59h1.14v1.14h-1.14zM956.27 196.59h1.14v1.14h-1.14zM957.41 196.59h1.14v1.14h-1.14zM958.54 196.59h1.14v1.14h-1.14zM960.81 196.59h1.14v1.14h-1.14zM963.08 196.59h1.14v1.14h-1.14zM964.22 196.59h1.14v1.14h-1.14zM966.49 196.59h1.14v1.14h-1.14zM968.76 196.59h1.14v1.14h-1.14zM969.89 196.59h1.14v1.14h-1.14zM971.03 196.59h1.14v1.14h-1.14zM974.43 196.59h1.14v1.14h-1.14zM976.70 196.59h1.14v1.14h-1.14zM977.84 196.59h1.14v1.14h-1.14zM983.51 196.59h1.14v1.14h-1.14zM984.65 196.59h1.14v1.14h-1.14zM985.78 196.59h1.14v1.14h-1.14zM990.32 196.59h1.14v1.14h-1.14zM991.46 196.59h1.14v1.14h-1.14zM994.86 196.59h1.14v1.14h-1.14zM954.00 197.73h1.14v1.14h-1.14zM960.81 197.73h1.14v1.14h-1.14zM963.08 197.73h1.14v1.14h-1.14zM964.22 197.73h1.14v1.14h-1.14zM965.35 197.73h1.14v1.14h-1.14zM967.62 197.73h1.14v1.14h-1.14zM968.76 197.73h1.14v1.14h-1.14zM969.89 197.73h1.14v1.14h-1.14zM973.30 197.73h1.14v1.14h-1.14zM975.57 197.73h1.14v1.14h-1.14zM976.70 197.73h1.14v1.14h-1.14zM981.24 197.73h1.14v1.14h-1.14zM982.38 197.73h1.14v1.14h-1.14zM984.65 197.73h1.14v1.14h-1.14zM985.78 197.73h1.14v1.14h-1.14zM986.92 197.73h1.14v1.14h-1.14zM988.05 197.73h1.14v1.14h-1.14zM989.19 197.73h1.14v1.14h-1.14zM994.86 197.73h1.14v1.14h-1.14zM954.00 198.86h1.14v1.14h-1.14zM955.14 198.86h1.14v1.14h-1.14zM956.27 198.86h1.14v1.14h-1.14zM957.41 198.86h1.14v1.14h-1.14zM958.54 198.86h1.14v1.14h-1.14zM959.68 198.86h1.14v1.14h-1.14zM960.81 198.86h1.14v1.14h-1.14zM963.08 198.86h1.14v1.14h-1.14zM964.22 198.86h1.14v1.14h-1.14zM973.30 198.86h1.14v1.14h-1.14zM974.43 198.86h1.14v1.14h-1.14zM976.70 198.86h1.14v1.14h-1.14zM977.84 198.86h1.14v1.14h-1.14zM982.38 198.86h1.14v1.14h-1.14zM983.51 198.86h1.14v1.14h-1.14zM984.65 198.86h1.14v1.14h-1.14zM986.92 198.86h1.14v1.14h-1.14zM990.32 198.86h1.14v1.14h-1.14zM993.73 198.86h1.14v1.14h-1.14zM994.86 198.86h1.14v1.14h-1.14z" fill="#111"/>
<text transform="translate(1007.3,197.5) rotate(-90)" font-family="Liberation Sans, sans-serif" font-size="7.6" fill="#4a5866">73000-131</text>
<text x="509.4" y="225.8" font-family="Liberation Sans, sans-serif" font-size="11.4" fill="#333a40">in Milliarden EUR</text>
<text x="755.5" y="225.7" text-anchor="end" font-family="Liberation Sans, sans-serif" font-weight="700" font-size="11" fill="#2a3036">Export</text>
<text x="764.4" y="225.7" font-family="Liberation Sans, sans-serif" font-weight="700" font-size="11" fill="#2a3036">Import</text>
<rect x="509.20" y="237.70" width="21.00" height="13.60" fill="#fff"/><rect x="509.20" y="237.70" width="21.00" height="1.05" fill="#d23a3f"/><rect x="509.20" y="239.79" width="21.00" height="1.05" fill="#d23a3f"/><rect x="509.20" y="241.88" width="21.00" height="1.05" fill="#d23a3f"/><rect x="509.20" y="243.98" width="21.00" height="1.05" fill="#d23a3f"/><rect x="509.20" y="246.07" width="21.00" height="1.05" fill="#d23a3f"/><rect x="509.20" y="248.16" width="21.00" height="1.05" fill="#d23a3f"/><rect x="509.20" y="250.25" width="21.00" height="1.05" fill="#d23a3f"/><rect x="509.20" y="237.70" width="9.45" height="7.32" fill="#2f4f93"/><text x="539.5" y="248.3" font-family="Liberation Sans, sans-serif" font-size="10.2" fill="#34393e" stroke="#34393e" stroke-width="0.15">Vereinigte Staaten</text><rect x="628.6" y="239.2" width="127.5" height="10.6" fill="#11354f"/><rect x="764" y="239.2" width="125.7" height="10.6" fill="#e67a2b"/><text x="750.8" y="248.1" text-anchor="end" font-family="Liberation Sans, sans-serif" font-size="11.4" fill="#fff" stroke="#fff" stroke-width="0.3">157,94</text><text x="767.6" y="248.1" font-family="Liberation Sans, sans-serif" font-size="11.4" fill="#fff" stroke="#fff" stroke-width="0.3">155,74</text><text x="969" y="248.3" text-anchor="end" font-family="Liberation Sans, sans-serif" font-size="10.2" fill="#34393e" stroke="#34393e" stroke-width="0.15">China</text><rect x="977.40" y="237.70" width="21.00" height="13.60" fill="#dc2a22"/><circle cx="981.0" cy="241.1" r="1.6" fill="#f7d417"/><circle cx="984.0" cy="239.3" r="0.55" fill="#f7d417"/><circle cx="985.0" cy="240.9" r="0.55" fill="#f7d417"/><circle cx="985.0" cy="242.9" r="0.55" fill="#f7d417"/><circle cx="984.0" cy="244.3" r="0.55" fill="#f7d417"/>
<rect x="509.20" y="261.90" width="7.00" height="13.60" fill="#27519a"/><rect x="516.20" y="261.90" width="7.00" height="13.60" fill="#fff"/><rect x="523.20" y="261.90" width="7.00" height="13.60" fill="#d8232a"/><text x="539.5" y="272.5" font-family="Liberation Sans, sans-serif" font-size="10.2" fill="#34393e" stroke="#34393e" stroke-width="0.15">Frankreich</text><rect x="661.8" y="263.4" width="94.3" height="10.6" fill="#11354f"/><rect x="764" y="263.4" width="83.4" height="10.6" fill="#e67a2b"/><text x="750.8" y="272.3" text-anchor="end" font-family="Liberation Sans, sans-serif" font-size="11.4" fill="#fff" stroke="#fff" stroke-width="0.3">116,76</text><text x="767.6" y="272.3" font-family="Liberation Sans, sans-serif" font-size="11.4" fill="#fff" stroke="#fff" stroke-width="0.3">103,28</text><text x="969" y="272.5" text-anchor="end" font-family="Liberation Sans, sans-serif" font-size="10.2" fill="#34393e" stroke="#34393e" stroke-width="0.15">Niederlande</text><rect x="977.40" y="261.90" width="21.00" height="4.53" fill="#c8243a"/><rect x="977.40" y="266.43" width="21.00" height="4.53" fill="#fff"/><rect x="977.40" y="270.97" width="21.00" height="4.53" fill="#27519a"/>
<rect x="509.20" y="286.10" width="21.00" height="4.53" fill="#c8243a"/><rect x="509.20" y="290.63" width="21.00" height="4.53" fill="#fff"/><rect x="509.20" y="295.17" width="21.00" height="4.53" fill="#27519a"/><text x="539.5" y="296.7" font-family="Liberation Sans, sans-serif" font-size="10.2" fill="#34393e" stroke="#34393e" stroke-width="0.15">Niederlande</text><rect x="666.1" y="287.6" width="90.0" height="10.6" fill="#11354f"/><rect x="764" y="287.6" width="76.2" height="10.6" fill="#e67a2b"/><text x="750.8" y="296.5" text-anchor="end" font-family="Liberation Sans, sans-serif" font-size="11.4" fill="#fff" stroke="#fff" stroke-width="0.3">111,51</text><text x="767.6" y="296.5" font-family="Liberation Sans, sans-serif" font-size="11.4" fill="#fff" stroke="#fff" stroke-width="0.3">94,41</text><text x="969" y="296.7" text-anchor="end" font-family="Liberation Sans, sans-serif" font-size="10.2" fill="#34393e" stroke="#34393e" stroke-width="0.15">Vereinigte Staaten</text><rect x="977.40" y="286.10" width="21.00" height="13.60" fill="#fff"/><rect x="977.40" y="286.10" width="21.00" height="1.05" fill="#d23a3f"/><rect x="977.40" y="288.19" width="21.00" height="1.05" fill="#d23a3f"/><rect x="977.40" y="290.28" width="21.00" height="1.05" fill="#d23a3f"/><rect x="977.40" y="292.38" width="21.00" height="1.05" fill="#d23a3f"/><rect x="977.40" y="294.47" width="21.00" height="1.05" fill="#d23a3f"/><rect x="977.40" y="296.56" width="21.00" height="1.05" fill="#d23a3f"/><rect x="977.40" y="298.65" width="21.00" height="1.05" fill="#d23a3f"/><rect x="977.40" y="286.10" width="9.45" height="7.32" fill="#2f4f93"/>
<rect x="509.20" y="310.30" width="21.00" height="13.60" fill="#dc2a22"/><circle cx="512.8" cy="313.7" r="1.6" fill="#f7d417"/><circle cx="515.8" cy="311.9" r="0.55" fill="#f7d417"/><circle cx="516.8" cy="313.5" r="0.55" fill="#f7d417"/><circle cx="516.8" cy="315.5" r="0.55" fill="#f7d417"/><circle cx="515.8" cy="316.9" r="0.55" fill="#f7d417"/><text x="539.5" y="320.9" font-family="Liberation Sans, sans-serif" font-size="10.2" fill="#34393e" stroke="#34393e" stroke-width="0.15">China</text><rect x="677.5" y="311.8" width="78.6" height="10.6" fill="#11354f"/><rect x="764" y="311.8" width="65.0" height="10.6" fill="#e67a2b"/><text x="750.8" y="320.7" text-anchor="end" font-family="Liberation Sans, sans-serif" font-size="11.4" fill="#fff" stroke="#fff" stroke-width="0.3">97,32</text><text x="767.6" y="320.7" font-family="Liberation Sans, sans-serif" font-size="11.4" fill="#fff" stroke="#fff" stroke-width="0.3">80,47</text><text x="969" y="320.9" text-anchor="end" font-family="Liberation Sans, sans-serif" font-size="10.2" fill="#34393e" stroke="#34393e" stroke-width="0.15">Polen</text><rect x="977.40" y="310.30" width="21.00" height="6.80" fill="#fff"/><rect x="977.40" y="317.10" width="21.00" height="6.80" fill="#dc2434"/>
<rect x="509.20" y="334.50" width="21.00" height="6.80" fill="#fff"/><rect x="509.20" y="341.30" width="21.00" height="6.80" fill="#dc2434"/><text x="539.5" y="345.1" font-family="Liberation Sans, sans-serif" font-size="10.2" fill="#34393e" stroke="#34393e" stroke-width="0.15">Polen</text><rect x="684.0" y="336.0" width="72.1" height="10.6" fill="#11354f"/><rect x="764" y="336.0" width="57.3" height="10.6" fill="#e67a2b"/><text x="750.8" y="344.9" text-anchor="end" font-family="Liberation Sans, sans-serif" font-size="11.4" fill="#fff" stroke="#fff" stroke-width="0.3">89,27</text><text x="767.6" y="344.9" font-family="Liberation Sans, sans-serif" font-size="11.4" fill="#fff" stroke="#fff" stroke-width="0.3">70,99</text><text x="969" y="345.1" text-anchor="end" font-family="Liberation Sans, sans-serif" font-size="10.2" fill="#34393e" stroke="#34393e" stroke-width="0.15">Italien</text><rect x="977.40" y="334.50" width="7.00" height="13.60" fill="#2a9a4a"/><rect x="984.40" y="334.50" width="7.00" height="13.60" fill="#fff"/><rect x="991.40" y="334.50" width="7.00" height="13.60" fill="#d62b35"/>
<rect x="509.20" y="358.70" width="7.00" height="13.60" fill="#2a9a4a"/><rect x="516.20" y="358.70" width="7.00" height="13.60" fill="#fff"/><rect x="523.20" y="358.70" width="7.00" height="13.60" fill="#d62b35"/><text x="539.5" y="369.3" font-family="Liberation Sans, sans-serif" font-size="10.2" fill="#34393e" stroke="#34393e" stroke-width="0.15">Italien</text><rect x="687.8" y="360.2" width="68.3" height="10.6" fill="#11354f"/><rect x="764" y="360.2" width="55.6" height="10.6" fill="#e67a2b"/><text x="750.8" y="369.1" text-anchor="end" font-family="Liberation Sans, sans-serif" font-size="11.4" fill="#fff" stroke="#fff" stroke-width="0.3">84,66</text><text x="767.6" y="369.1" font-family="Liberation Sans, sans-serif" font-size="11.4" fill="#fff" stroke="#fff" stroke-width="0.3">68,86</text><text x="969" y="369.3" text-anchor="end" font-family="Liberation Sans, sans-serif" font-size="10.2" fill="#34393e" stroke="#34393e" stroke-width="0.15">Frankreich</text><rect x="977.40" y="358.70" width="7.00" height="13.60" fill="#27519a"/><rect x="984.40" y="358.70" width="7.00" height="13.60" fill="#fff"/><rect x="991.40" y="358.70" width="7.00" height="13.60" fill="#d8232a"/>
<rect x="509.20" y="382.90" width="21.00" height="4.53" fill="#d62b35"/><rect x="509.20" y="387.43" width="21.00" height="4.53" fill="#fff"/><rect x="509.20" y="391.97" width="21.00" height="4.53" fill="#d62b35"/><text x="539.5" y="393.5" font-family="Liberation Sans, sans-serif" font-size="10.2" fill="#34393e" stroke="#34393e" stroke-width="0.15">Österreich</text><rect x="692.3" y="384.4" width="63.8" height="10.6" fill="#11354f"/><rect x="764" y="384.4" width="48.9" height="10.6" fill="#e67a2b"/><text x="750.8" y="393.3" text-anchor="end" font-family="Liberation Sans, sans-serif" font-size="11.4" fill="#fff" stroke="#fff" stroke-width="0.3">79,01</text><text x="767.6" y="393.3" font-family="Liberation Sans, sans-serif" font-size="11.4" fill="#fff" stroke="#fff" stroke-width="0.3">60,63</text><text x="969" y="393.5" text-anchor="end" font-family="Liberation Sans, sans-serif" font-size="10.2" fill="#34393e" stroke="#34393e" stroke-width="0.15">Tschechien</text><rect x="977.40" y="382.90" width="21.00" height="6.80" fill="#fff"/><rect x="977.40" y="389.70" width="21.00" height="6.80" fill="#d62b35"/><polygon points="977.4,382.9 987.9,389.7 977.4,396.5" fill="#1f4f96"/>
<rect x="509.20" y="407.10" width="21.00" height="13.60" fill="#2a3f7e"/><path d="M509.2,407.09999999999997 L530.2,420.7 M530.2,407.09999999999997 L509.2,420.7" stroke="#fff" stroke-width="2.6"/><path d="M509.2,407.09999999999997 L530.2,420.7 M530.2,407.09999999999997 L509.2,420.7" stroke="#c8283a" stroke-width="0.9"/><rect x="517.50" y="407.10" width="4.40" height="13.60" fill="#fff"/><rect x="509.20" y="411.70" width="21.00" height="4.40" fill="#fff"/><rect x="518.40" y="407.10" width="2.60" height="13.60" fill="#c8283a"/><rect x="509.20" y="412.60" width="21.00" height="2.60" fill="#c8283a"/><text x="539.5" y="417.7" font-family="Liberation Sans, sans-serif" font-size="10.2" fill="#34393e" stroke="#34393e" stroke-width="0.15">Vereinigtes Königreich</text><rect x="692.9" y="408.6" width="63.2" height="10.6" fill="#11354f"/><rect x="764" y="408.6" width="43.5" height="10.6" fill="#e67a2b"/><text x="750.8" y="417.5" text-anchor="end" font-family="Liberation Sans, sans-serif" font-size="11.4" fill="#fff" stroke="#fff" stroke-width="0.3">78,32</text><text x="767.6" y="417.5" font-family="Liberation Sans, sans-serif" font-size="11.4" fill="#fff" stroke="#fff" stroke-width="0.3">53,84</text><text x="969" y="417.7" text-anchor="end" font-family="Liberation Sans, sans-serif" font-size="10.2" fill="#34393e" stroke="#34393e" stroke-width="0.15">Österreich</text><rect x="977.40" y="407.10" width="21.00" height="4.53" fill="#d62b35"/><rect x="977.40" y="411.63" width="21.00" height="4.53" fill="#fff"/><rect x="977.40" y="416.17" width="21.00" height="4.53" fill="#d62b35"/>
<rect x="509.20" y="431.30" width="21.00" height="13.60" fill="#e02a2e"/><rect x="515.50" y="436.80" width="8.40" height="2.60" fill="#fff"/><rect x="518.40" y="433.90" width="2.60" height="8.40" fill="#fff"/><text x="539.5" y="441.9" font-family="Liberation Sans, sans-serif" font-size="10.2" fill="#34393e" stroke="#34393e" stroke-width="0.15">Schweiz</text><rect x="702.4" y="432.8" width="53.7" height="10.6" fill="#11354f"/><rect x="764" y="432.8" width="42.4" height="10.6" fill="#e67a2b"/><text x="750.8" y="441.7" text-anchor="end" font-family="Liberation Sans, sans-serif" font-size="11.4" fill="#fff" stroke="#fff" stroke-width="0.3">66,56</text><text x="767.6" y="441.7" font-family="Liberation Sans, sans-serif" font-size="11.4" fill="#fff" stroke="#fff" stroke-width="0.3">52,57</text><text x="969" y="441.9" text-anchor="end" font-family="Liberation Sans, sans-serif" font-size="10.2" fill="#34393e" stroke="#34393e" stroke-width="0.15">Belgien</text><rect x="977.40" y="431.30" width="7.00" height="13.60" fill="#111"/><rect x="984.40" y="431.30" width="7.00" height="13.60" fill="#f6d32a"/><rect x="991.40" y="431.30" width="7.00" height="13.60" fill="#de2c33"/>
<rect x="509.20" y="455.50" width="7.00" height="13.60" fill="#111"/><rect x="516.20" y="455.50" width="7.00" height="13.60" fill="#f6d32a"/><rect x="523.20" y="455.50" width="7.00" height="13.60" fill="#de2c33"/><text x="539.5" y="466.1" font-family="Liberation Sans, sans-serif" font-size="10.2" fill="#34393e" stroke="#34393e" stroke-width="0.15">Belgien</text><rect x="707.4" y="457.0" width="48.7" height="10.6" fill="#11354f"/><rect x="764" y="457.0" width="41.8" height="10.6" fill="#e67a2b"/><text x="750.8" y="465.9" text-anchor="end" font-family="Liberation Sans, sans-serif" font-size="11.4" fill="#fff" stroke="#fff" stroke-width="0.3">60,36</text><text x="767.6" y="465.9" font-family="Liberation Sans, sans-serif" font-size="11.4" fill="#fff" stroke="#fff" stroke-width="0.3">51,74</text><text x="969" y="466.1" text-anchor="end" font-family="Liberation Sans, sans-serif" font-size="10.2" fill="#34393e" stroke="#34393e" stroke-width="0.15">Schweiz</text><rect x="977.40" y="455.50" width="21.00" height="13.60" fill="#e02a2e"/><rect x="983.70" y="461.00" width="8.40" height="2.60" fill="#fff"/><rect x="986.60" y="458.10" width="2.60" height="8.40" fill="#fff"/>
</svg>
<div class="box" style="left:67px;top:497px;width:389px;height:208px"></div>
<div class="shadow" style="left:101px;top:707px;width:354px"></div>
<div class="box" style="left:527px;top:515px;width:476px;height:301px"></div>
<div class="shadow" style="left:551px;top:818px;width:451px"></div>
<div class="box" style="left:65px;top:769px;width:340px;height:157px"></div>
<div class="shadow" style="left:79px;top:928px;width:325px"></div>
<div class="ln" style="left:70px;top:120px;width:940px"></div>
<div class="ln" style="left:70px;top:498px;width:940px"></div>
<div class="ln" style="left:70px;top:540px;width:940px"></div>
<div class="ln" style="left:70px;top:582px;width:940px"></div>
<div class="ln" style="left:70px;top:624px;width:940px"></div>
<div class="ln" style="left:70px;top:666px;width:940px"></div>
<div class="ln" style="left:70px;top:708px;width:940px"></div>
<div class="ln" style="left:70px;top:750px;width:940px"></div>
<div class="ln" style="left:70px;top:792px;width:940px"></div>
<div class="ln" style="left:70px;top:834px;width:940px"></div>
<div class="ln" style="left:70px;top:876px;width:940px"></div>
<div class="ln" style="left:70px;top:918px;width:940px"></div>
<div class="ln" style="left:70px;top:960px;width:66px"></div>
<div class="ln" style="left:936px;top:960px;width:74px"></div>
<div class="ln" style="left:70px;top:1002px;width:66px"></div>
<div class="ln" style="left:936px;top:1002px;width:74px"></div>
<div class="ln" style="left:70px;top:1044px;width:66px"></div>
<div class="ln" style="left:936px;top:1044px;width:74px"></div>
<div class="ln" style="left:70px;top:1086px;width:66px"></div>
<div class="ln" style="left:936px;top:1086px;width:74px"></div>
<div class="ln" style="left:70px;top:1128px;width:66px"></div>
<div class="ln" style="left:936px;top:1128px;width:74px"></div>
<div class="ln" style="left:70px;top:1170px;width:66px"></div>
<div class="ln" style="left:936px;top:1170px;width:74px"></div>
<div class="ln" style="left:70px;top:1212px;width:66px"></div>
<div class="ln" style="left:936px;top:1212px;width:74px"></div>
<div class="ln" style="left:70px;top:1254px;width:66px"></div>
<div class="ln" style="left:936px;top:1254px;width:74px"></div>
<div class="ln" style="left:70px;top:1296px;width:66px"></div>
<div class="ln" style="left:936px;top:1296px;width:74px"></div>
<div class="t " style="left:85.0px;top:512.1px;font-size:14px;font-weight:700;letter-spacing:-0.100px;">Außenpolitik:</div>
<div class="dot" style="left:85px;top:535.5px"></div>
<div class="t nt" style="left:108.2px;top:531.3px;font-size:13.2px;font-weight:500;letter-spacing:0.036px;">Beschäftigt sich mit den Beziehungen eines Staates zu</div>
<div class="t nt" style="left:108.2px;top:549.8px;font-size:13.2px;font-weight:500;letter-spacing:-0.017px;">anderen Staaten und internationalen Organisationen</div>
<div class="dot" style="left:85px;top:572.5px"></div>
<div class="t nt" style="left:108.2px;top:568.3px;font-size:13.2px;font-weight:500;letter-spacing:0.131px;">Beziehungen in Politik, Wirtschaft, Militär, Kultur und</div>
<div class="t nt" style="left:108.2px;top:586.8px;font-size:13.2px;font-weight:500;letter-spacing:-0.250px;">Recht</div>
<div class="dot" style="left:85px;top:609.5px"></div>
<div class="t nt" style="left:108.2px;top:605.3px;font-size:13.2px;font-weight:500;letter-spacing:0.019px;">-&gt; durch Diplomatie, Verträge und Bündnisse gestaltet</div>
<div class="dot" style="left:85px;top:628.0px"></div>
<div class="t nt" style="left:108.2px;top:623.8px;font-size:13.2px;font-weight:500;letter-spacing:0.131px;">Wichtiger Teilbereich: Sicherheitspolitik:</div>
<div class="dot" style="left:85px;top:646.5px"></div>
<div class="t nt" style="left:108.2px;top:642.3px;font-size:13.2px;font-weight:500;letter-spacing:0.255px;">- &gt; Kriege verhindern</div>
<div class="dot" style="left:85px;top:665.0px"></div>
<div class="t nt" style="left:108.2px;top:660.8px;font-size:13.2px;font-weight:500;letter-spacing:0.020px;">- &gt; Erhaltung der politischen Eigenständigkeit</div>
<div class="dot" style="left:85px;top:683.5px"></div>
<div class="t nt" style="left:108.2px;top:679.3px;font-size:13.2px;font-weight:500;letter-spacing:-0.005px;">- &gt; Fähigkeit auf Gefahren angemessen reagieren</div>
<div class="t " style="left:542.8px;top:530.1px;font-size:13.6px;font-weight:700;letter-spacing:0.320px;">Mittel bundesdeutscher Außenpolitik:</div>
<div class="dot" style="left:542.5px;top:553.1px"></div>
<div class="t nt" style="left:565.7px;top:548.9px;font-size:13.2px;font-weight:500;letter-spacing:0.085px;">Diplomatie, zur Pflege internationaler Beziehungen und friedliche</div>
<div class="t nt" style="left:565.7px;top:567.4px;font-size:13.2px;font-weight:500;letter-spacing:-0.048px;">Lösung von Konflikten, als zentrale Rolle</div>
<div class="dot" style="left:542.5px;top:590.1px"></div>
<div class="t nt" style="left:565.7px;top:585.9px;font-size:13.2px;font-weight:500;letter-spacing:-0.092px;">Multilaterale Bündnisse wie EU, NATO, UN -&gt; gemeinsam mit Partnern</div>
<div class="t nt" style="left:565.7px;top:604.4px;font-size:13.2px;font-weight:500;letter-spacing:0.102px;">für Frieden, Sicherheit und Menschenrechte einzutreten</div>
<div class="t nt" style="left:565.7px;top:622.9px;font-size:13.2px;font-weight:500;letter-spacing:0.116px;">( Verantwortung für diese übernehmen)</div>
<div class="dot" style="left:542.5px;top:645.6px"></div>
<div class="t nt" style="left:565.7px;top:641.4px;font-size:13.2px;font-weight:500;letter-spacing:0.128px;">wirtschaftliche Zusammenarbeit und Entwicklungshilfe zur Förderung</div>
<div class="t nt" style="left:565.7px;top:659.9px;font-size:13.2px;font-weight:500;letter-spacing:0.185px;">von Stabilität</div>
<div class="dot" style="left:542.5px;top:682.6px"></div>
<div class="t nt" style="left:565.7px;top:678.4px;font-size:13.2px;font-weight:500;letter-spacing:0.053px;">Sanktionen gegen Staaten, die internationales Recht verletzen - &gt;</div>
<div class="t nt" style="left:565.7px;top:696.9px;font-size:13.2px;font-weight:500;letter-spacing:-0.179px;">beeinflussen von Geschichte (4 Phasen):</div>
<div class="dot" style="left:542.5px;top:719.6px"></div>
<div class="t nt" style="left:565.7px;top:715.4px;font-size:13.2px;font-weight:500;letter-spacing:0.147px;">- 1. 2. Weltkrieg und Völkermord (Prämisse nie wieder Krieg)</div>
<div class="dot" style="left:542.5px;top:738.1px"></div>
<div class="t nt" style="left:565.7px;top:733.9px;font-size:13.2px;font-weight:500;letter-spacing:0.574px;">- 2. Eintritt UN</div>
<div class="dot" style="left:542.5px;top:756.6px"></div>
<div class="t nt" style="left:565.7px;top:752.4px;font-size:13.2px;font-weight:500;letter-spacing:0.213px;">- 3. Immer mehr Stärkung der Verbindung mit UN</div>
<div class="dot" style="left:542.5px;top:775.1px"></div>
<div class="t nt" style="left:565.7px;top:770.9px;font-size:13.2px;font-weight:500;letter-spacing:-0.090px;">- 4. Wie man mit Bedrohungen im Herzen Europas umgehen kann</div>
<div class="dot" style="left:542.5px;top:793.6px"></div>
<div class="t nt" style="left:565.7px;top:789.4px;font-size:13.2px;font-weight:500;letter-spacing:0.213px;">– &gt; wichtig für Deutschland ist die Sicherheit Israels</div>
<div class="t nt" style="left:84.4px;top:782.1px;font-size:13.0px;font-weight:500;letter-spacing:0.122px;">Einflussfaktoren auf die deutsche Außenpolitik</div>
<div class="dot" style="left:84.5px;top:804.4px"></div>
<div class="t nt" style="left:124.4px;top:800.2px;font-size:13.2px;font-weight:500;letter-spacing:0.016px;">historische Verantwortung,</div>
<div class="dot" style="left:84.5px;top:822.7px"></div>
<div class="t nt" style="left:124.4px;top:818.5px;font-size:13.2px;font-weight:500;letter-spacing:-0.095px;">geostrategische Lage,</div>
<div class="dot" style="left:84.5px;top:841.0px"></div>
<div class="t nt" style="left:124.4px;top:836.8px;font-size:13.2px;font-weight:500;letter-spacing:-0.056px;">Einbindung in internationale Organisationen,</div>
<div class="dot" style="left:84.5px;top:859.3px"></div>
<div class="t nt" style="left:124.4px;top:855.1px;font-size:13.2px;font-weight:500;letter-spacing:-0.031px;">Wertvorstellungen des Grundgesetzes,</div>
<div class="dot" style="left:84.5px;top:877.6px"></div>
<div class="t nt" style="left:124.4px;top:873.4px;font-size:13.2px;font-weight:500;letter-spacing:0.227px;">wirtschaftliche Interessen,</div>
<div class="dot" style="left:84.5px;top:895.9px"></div>
<div class="t nt" style="left:124.4px;top:891.7px;font-size:13.2px;font-weight:500;letter-spacing:0.139px;">öffentliche Meinung</div>
<div class="abs" style="left:142px;top:964px;width:118px;height:375px;background:#e4eef4"></div>
<div class="abs" style="left:260px;top:964px;width:668px;height:375px;background:#fbfaf9"></div>
<div class="abs" style="left:142px;top:964px;width:118px;height:81px;background:#bacfdc"></div>
<div class="abs" style="left:262px;top:964px;width:666px;height:81px;background:#fce5cf"></div>
<div class="t " style="left:150.6px;top:971.9px;font-size:17.4px;font-weight:700;color:#1a2632;letter-spacing:-0.171px;">Präambel</div>
<div class="t " style="left:270.0px;top:971.7px;font-size:17.6px;font-weight:400;color:#2d2a28;letter-spacing:0.012px;">[deutsche Volk] von dem Willen beseelt, als gleichberechtigtes Glied in einem ver-</div>
<div class="t " style="left:270.0px;top:996.3px;font-size:17.6px;font-weight:400;color:#2d2a28;letter-spacing:-0.059px;">einten Europa dem Frieden der Welt zu dienen.</div>
<div class="abs" style="left:142px;top:1047px;width:118px;height:81px;background:#bacfdc"></div>
<div class="abs" style="left:262px;top:1047px;width:666px;height:81px;background:#fce5cf"></div>
<div class="t " style="left:150.6px;top:1054.1px;font-size:17.4px;font-weight:700;color:#1a2632;letter-spacing:-0.050px;">Artikel 1</div>
<div class="t " style="left:270.0px;top:1053.9px;font-size:17.6px;font-weight:400;color:#2d2a28;letter-spacing:0.035px;">(2) Das deutsche Volk bekennt sich darum zu unverletzlichen und unveräußer-</div>
<div class="t " style="left:270.0px;top:1078.5px;font-size:17.6px;font-weight:400;color:#2d2a28;letter-spacing:0.036px;">lichen Menschenrechten als Grundlage jeder menschlichen Gemeinschaft, des</div>
<div class="t " style="left:270.0px;top:1103.1px;font-size:17.6px;font-weight:400;color:#2d2a28;letter-spacing:-0.044px;">Friedens und der Gerechtigkeit in der Welt</div>
<div class="abs" style="left:142px;top:1130px;width:118px;height:102px;background:#bacfdc"></div>
<div class="abs" style="left:262px;top:1130px;width:666px;height:102px;background:#fce5cf"></div>
<div class="t " style="left:150.6px;top:1136.3px;font-size:17.4px;font-weight:700;color:#1a2632;letter-spacing:0.000px;">Artikel 24</div>
<div class="t " style="left:270.0px;top:1136.1px;font-size:17.6px;font-weight:400;color:#2d2a28;letter-spacing:-0.030px;">(2) Der Bund kann sich zur Wahrung des Friedens einem System gegenseitiger</div>
<div class="t " style="left:270.0px;top:1160.7px;font-size:17.6px;font-weight:400;color:#2d2a28;letter-spacing:-0.005px;">kollektiver Sicherheit einordnen; er wird hierbei in die Beschränkungen seiner Ho-</div>
<div class="t " style="left:270.0px;top:1185.3px;font-size:17.6px;font-weight:400;color:#2d2a28;letter-spacing:0.043px;">heitsrechte einwilligen, die eine friedliche und dauerhafte Ordnung in Europa und</div>
<div class="t " style="left:270.0px;top:1209.9px;font-size:17.6px;font-weight:400;color:#2d2a28;letter-spacing:0.044px;">zwischen den Völkern der Welt herbeiführen und sichern.</div>
<div class="abs" style="left:142px;top:1234px;width:118px;height:105px;background:#bacfdc"></div>
<div class="abs" style="left:262px;top:1234px;width:666px;height:105px;background:#fce5cf"></div>
<div class="t " style="left:150.6px;top:1242.3px;font-size:17.4px;font-weight:700;color:#1a2632;letter-spacing:0.089px;">Artikel 26</div>
<div class="t " style="left:270.0px;top:1242.1px;font-size:17.6px;font-weight:400;color:#2d2a28;letter-spacing:0.019px;">(1) Handlungen, die geeignet sind und in der Absicht vorgenommen werden, das</div>
<div class="t " style="left:270.0px;top:1266.7px;font-size:17.6px;font-weight:400;color:#2d2a28;letter-spacing:0.016px;">friedliche Zusammenleben der Völker zu stören, insbesondere die Führung eines</div>
<div class="t " style="left:270.0px;top:1291.3px;font-size:17.6px;font-weight:400;color:#2d2a28;letter-spacing:0.080px;">Angriffskrieges vorzubereiten, sind verfassungswidrig. Sie sind unter Strafe zu</div>
<div class="t " style="left:270.0px;top:1315.9px;font-size:17.6px;font-weight:400;color:#2d2a28;letter-spacing:0.314px;">stellen.</div>
<div class="abs" style="left:262px;top:1045px;width:666px;height:2px;background:#ebc5a3"></div>
<div class="abs" style="left:262px;top:1128px;width:666px;height:2px;background:#ebc5a3"></div>
<div class="abs" style="left:262px;top:1232px;width:666px;height:2px;background:#ebc5a3"></div>
</body>
</html>
